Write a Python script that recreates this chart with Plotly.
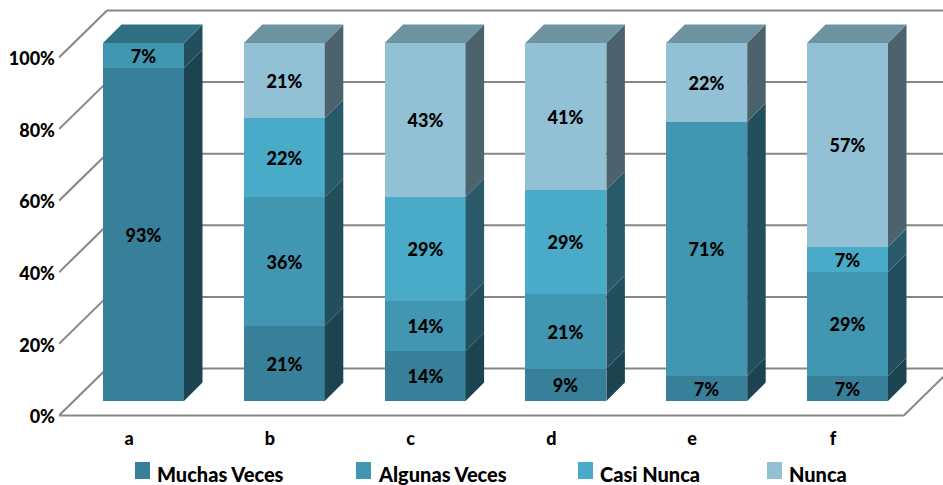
import plotly.graph_objects as go

categories = ["a", "b", "c", "d", "e", "f"]
series_names = ["Muchas Veces", "Algunas Veces", "Casi Nunca", "Nunca"]
muchas = [93, 21, 14, 9, 7, 7]
algunas = [7, 36, 14, 21, 71, 29]
casi = [0, 22, 29, 29, 0, 7]
nunca = [0, 21, 43, 41, 22, 57]
tick_values = [0, 20, 40, 60, 80, 100]
tick_labels = ["0%", "20%", "40%", "60%", "80%", "100%"]

values = [muchas, algunas, casi, nunca]
front = ["#38809A", "#4197B2", "#49ABC8", "#92C1D6"]
side = ["#1C4450", "#234E5C", "#285A6A", "#4C626D"]
top = ["#2A6070", "#2F7082", "#3A8299", "#6C939F"]
FONT = "Lato"
TXT = "#000000"
GRID = "#868686"
WEIGHT = 900

W, H = 943, 485
LEFT, FLOOR_PX, PLOT_BOTTOM = 59, 415.5, 420
UX, UY = 140.8, 3.58          # px per category, px per percent
X0_PX, Y0_PX = 143.5, 401     # pixel of category 0 / 0% on the bars' front plane
BAR_W = 81 / UX
BAR_DX, BAR_DY = 18.5 / UX, 18.5 / UY
WALL_DX, WALL_DY = 48 / UX, 47 / UY
FRONT_X = (LEFT - X0_PX) / UX
FRONT_Y = (Y0_PX - FLOOR_PX) / UY
XR = [FRONT_X, (W - X0_PX) / UX]
YR = [(Y0_PX - PLOT_BOTTOM) / UY, Y0_PX / UY]
FLOOR_DX = 14.5 / UX

fig = go.Figure()
xs = list(range(len(categories)))

shapes = []
line = dict(color=GRID, width=2)
for v in tick_values:
    y = v + FRONT_Y
    shapes.append(dict(type="line", xref="x", yref="y", layer="below", x0=FRONT_X, y0=y,
                       x1=FRONT_X + WALL_DX, y1=y + WALL_DY, line=line))
    shapes.append(dict(type="line", xref="x", yref="y", layer="below", x0=FRONT_X + WALL_DX,
                       y0=y + WALL_DY, x1=XR[1], y1=y + WALL_DY, line=line))
fx1 = FRONT_X + len(categories)
shapes.append(dict(type="line", xref="x", yref="y", layer="below", x0=FRONT_X, y0=FRONT_Y,
                   x1=fx1, y1=FRONT_Y, line=line))
shapes.append(dict(type="line", xref="x", yref="y", layer="below", x0=fx1, y0=FRONT_Y,
                   x1=fx1 + WALL_DX, y1=FRONT_Y + WALL_DY, line=line))

for s, name in enumerate(series_names):
    fig.add_bar(x=xs, y=values[s], name=name, width=BAR_W, marker=dict(color=front[s], line_width=0),
                text=[f"{v}%" if v else None for v in values[s]], textposition="inside",
                insidetextanchor="middle", textangle=0, constraintext="none",
                textfont=dict(family=FONT, size=18, color=TXT, weight=WEIGHT),
                showlegend=False, hoverinfo="skip")

for s in range(len(series_names)):
    px, py, tx, ty = [], [], [], []
    for i in xs:
        base = sum(values[k][i] for k in range(s))
        v = values[s][i]
        if not v:
            continue
        xr = i + BAR_W / 2
        xl = i - BAR_W / 2
        px += [xr, xr + BAR_DX, xr + BAR_DX, xr, xr, None]
        py += [base, base + BAR_DY, base + v + BAR_DY, base + v, base, None]
        if not any(values[k][i] for k in range(s + 1, len(series_names))):
            tx += [xl, xl + BAR_DX, xr + BAR_DX, xr, xl, None]
            ty += [base + v, base + v + BAR_DY, base + v + BAR_DY, base + v, base + v, None]
    fig.add_scatter(x=px, y=py, mode="lines", fill="toself", fillcolor=side[s], line_width=0,
                    showlegend=False, hoverinfo="skip", cliponaxis=False)
    if tx:
        fig.add_scatter(x=tx, y=ty, mode="lines", fill="toself", fillcolor=top[s], line_width=0,
                        showlegend=False, hoverinfo="skip", cliponaxis=False)

# legend, placed by hand because Plotly's own swatch/text gap is fixed
legend_swatch_px = [135, 356, 578, 767]
plot_w, plot_h = W - LEFT, PLOT_BOTTOM
annotations = []
for s, name in enumerate(series_names):
    sx = legend_swatch_px[s]
    shapes.append(dict(type="rect", xref="paper", yref="paper", x0=(sx - LEFT) / plot_w,
                       x1=(sx + 15 - LEFT) / plot_w, y0=(PLOT_BOTTOM - 479) / plot_h,
                       y1=(PLOT_BOTTOM - 462) / plot_h, fillcolor=front[s], line_width=0))
    annotations.append(dict(xref="paper", yref="paper", x=(sx + 20 - LEFT) / plot_w,
                            y=(PLOT_BOTTOM - 474) / plot_h, text=name, showarrow=False, xanchor="left",
                            yanchor="middle", font=dict(family=FONT, size=20, color=TXT, weight=WEIGHT)))

fig.update_layout(
    width=W, height=H, barmode="stack", bargap=0, paper_bgcolor="white", plot_bgcolor="white",
    margin=dict(l=LEFT, r=0, t=0, b=H - PLOT_BOTTOM, pad=0), autosize=False,
    shapes=shapes, annotations=annotations,
    xaxis=dict(range=XR, tickmode="array", tickvals=[i - FLOOR_DX for i in xs], ticktext=categories,
               showgrid=False, zeroline=False, showline=False, ticks="", ticklabelstandoff=6,
               tickfont=dict(family=FONT, size=18, color=TXT, weight=WEIGHT)),
    yaxis=dict(range=YR, tickmode="array", tickvals=[v + FRONT_Y - 0.4 for v in tick_values], ticktext=tick_labels,
               showgrid=False, zeroline=False, showline=False, ticks="", ticklabelstandoff=3,
               tickfont=dict(family=FONT, size=18, color=TXT, weight=WEIGHT)),
)
fig.write_html("out.html", config=dict(displayModeBar=False),
               post_script="document.body.style.margin='0';document.body.style.overflow='hidden';")
